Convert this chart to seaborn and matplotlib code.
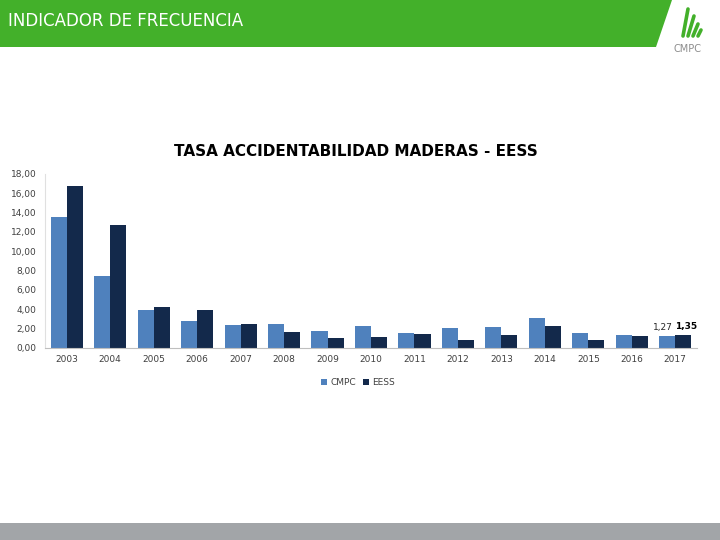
import numpy as np
import pandas as pd
import matplotlib
matplotlib.use("Agg")
import matplotlib.pyplot as plt
import seaborn as sns
from matplotlib.patches import Polygon, Rectangle
from matplotlib.lines import Line2D
from matplotlib.ticker import FuncFormatter

# ---- data ----
years = ["2003", "2004", "2005", "2006", "2007", "2008", "2009", "2010",
         "2011", "2012", "2013", "2014", "2015", "2016", "2017"]
cmpc = [13.51, 7.46, 3.94, 2.76, 2.42, 2.52, 1.80, 2.32,
        1.59, 2.04, 2.18, 3.08, 1.59, 1.38, 1.27]
eess = [16.79, 12.68, 4.28, 3.97, 2.52, 1.62, 1.07, 1.11,
        1.45, 0.86, 1.38, 2.32, 0.86, 1.28, 1.35]
series_names = ["CMPC", "EESS"]
yticks = [0, 2, 4, 6, 8, 10, 12, 14, 16, 18]
header_text = "INDICADOR DE FRECUENCIA"
chart_title = "TASA ACCIDENTABILIDAD MADERAS - EESS"
logo_text = "CMPC"

df = pd.DataFrame({
    "Año": years * 2,
    "Tasa": cmpc + eess,
    "Serie": [series_names[0]] * len(years) + [series_names[1]] * len(years),
})

sns.set_theme(style="white")
plt.rcParams['font.family'] = ['DejaVu Sans']

fig = plt.figure(figsize=(7.2, 5.4), dpi=100)
fig.patch.set_facecolor("white")

# ---- slide decorations ----
W, H = 720, 540
def fx(x): return x / W
def fy(y): return 1 - y / H

green = "#43B02A"
fig.patches.append(Polygon([(fx(0), fy(0)), (fx(672), fy(0)), (fx(656), fy(47)), (fx(0), fy(47))],
                           closed=True, transform=fig.transFigure, facecolor=green,
                           edgecolor="none", zorder=0))
fig.text(fx(8), fy(21), header_text, color="white", fontsize=12, ha="left", va="center")

# logo: slanted green strokes + text
for (x0, y0, x1, y1) in [(683, 36, 688, 9), (688, 36, 694, 16), (693, 36, 698, 24), (698, 36, 701, 30)]:
    fig.lines.append(Line2D([fx(x0), fx(x1)], [fy(y0), fy(y1)], transform=fig.transFigure,
                            color=green, linewidth=2.6, solid_capstyle="round"))
fig.text(fx(688), fy(49), logo_text, color="#8C8C8C", fontsize=7, ha="center", va="center")

# bottom grey bar
fig.patches.append(Rectangle((0, 0), 1, 17 / H, transform=fig.transFigure,
                             facecolor="#A2A5A8", edgecolor="none", zorder=0))

# ---- chart ----
ax = fig.add_axes([fx(45), fy(348), fx(697) - fx(45), fy(174) - fy(348)])
sns.barplot(data=df, x="Año", y="Tasa", hue="Serie",
            palette=["#4F81BD", "#13294B"], saturation=1, width=0.74,
            linewidth=0, edgecolor="none", ax=ax)

ax.set_ylim(0, 18)
ax.set_yticks(yticks)
ax.yaxis.set_major_formatter(FuncFormatter(lambda v, p: f"{v:.2f}".replace(".", ",")))
ax.set_xlabel("")
ax.set_ylabel("")
ax.tick_params(axis="both", labelsize=6.5, colors="#404040", length=0, pad=5)
ax.tick_params(axis="y", pad=6)
for s in ["top", "right"]:
    ax.spines[s].set_visible(False)
ax.spines["bottom"].set_color("#BFBFBF")
ax.spines["left"].set_color("#E0E0E0")
ax.spines["bottom"].set_linewidth(0.8)
ax.spines["left"].set_linewidth(0.8)
ax.grid(False)

# data labels for last year
n = len(years)
la = ax.bar_label(ax.containers[0], labels=[""] * (n - 1) + [f"{cmpc[-1]:.2f}".replace(".", ",")],
                  fontsize=6.5, color="#262626", padding=3)
lb = ax.bar_label(ax.containers[1], labels=[""] * (n - 1) + [f"{eess[-1]:.2f}".replace(".", ",")],
                  fontsize=6.5, color="#000000", fontweight="bold", padding=3)
la[-1].xyann = (-3, 3)
lb[-1].xyann = (2, 3)

sns.move_legend(ax, "center", bbox_to_anchor=(0.48, -0.2), ncol=2, frameon=False,
                title=None, fontsize=6.5, handlelength=0.7, handleheight=0.7,
                handletextpad=0.3, columnspacing=0.8)
for t in ax.get_legend().get_texts():
    t.set_color("#404040")

fig.text(fx(356), fy(152), chart_title, fontsize=11, fontweight="bold",
         color="black", ha="center", va="center")

fig.savefig("out.png", dpi=100)
